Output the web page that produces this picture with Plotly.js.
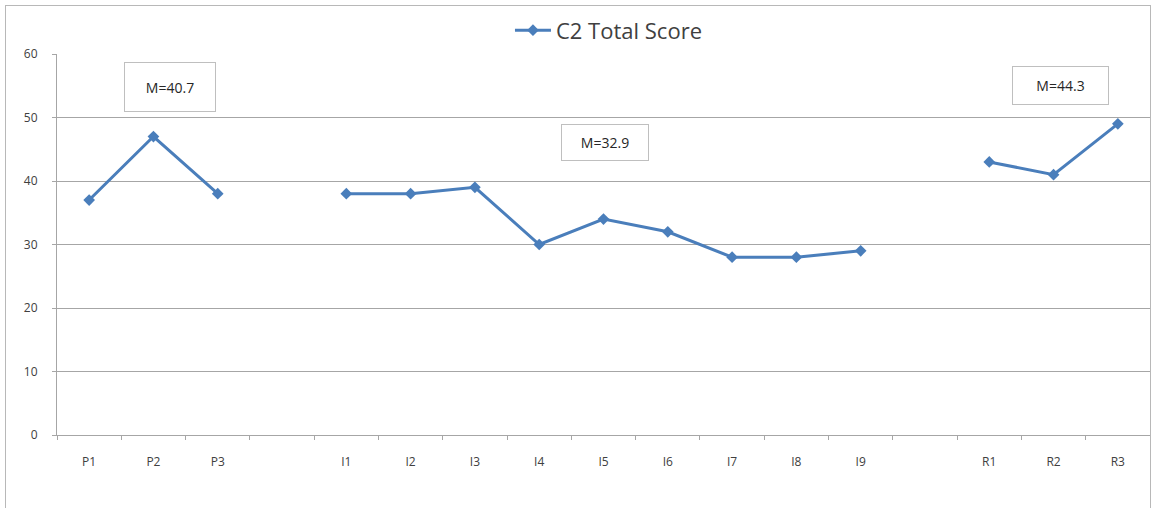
<!DOCTYPE html>
<html>
<head>
<meta charset="utf-8">
<script src="https://cdn.plot.ly/plotly-3.0.1.min.js"></script>
<style>
  html, body { margin: 0; padding: 0; background: #fff; }
  #wrap { position: relative; width: 1154px; height: 508px; overflow: hidden; }
  #chart { width: 1154px; height: 508px; }
  #frame { position: absolute; left: 5px; top: 5px; width: 1146px; height: 520px;
           border: 1px solid #b8b8b8; box-sizing: border-box; pointer-events: none; }
</style>
</head>
<body>
<div id="wrap">
  <div id="chart"></div>
  <div id="frame"></div>
</div>
<script>
// Categories (blank entries are the gaps between phases)
const categories = ["P1", "P2", "P3", " ", "I1", "I2", "I3", "I4", "I5", "I6", "I7", "I8", "I9", "  ", "R1", "R2", "R3"];
const scores     = [37, 47, 38, null, 38, 38, 39, 30, 34, 32, 28, 28, 29, null, 43, 41, 49];
const seriesName = "C2 Total Score";
const meanLabels = ["M=40.7", "M=32.9", "M=44.3"];

const blue = "#4a7ebb";
const grid = "#a6a6a6";
const textCol = "#404040";

const trace = {
  x: categories,
  y: scores,
  type: "scatter",
  mode: "lines+markers",
  name: seriesName,
  connectgaps: false,
  line: { color: blue, width: 3 },
  marker: { symbol: "diamond", size: 9, color: blue }
};

function box(text, x, y, w, h) {
  return {
    text: text, xref: "x", yref: "y", x: x, y: y,
    showarrow: false, width: w, height: h,
    bordercolor: "#bfbfbf", borderwidth: 1, bgcolor: "#ffffff",
    font: { family: "Open Sans, sans-serif", size: 14, color: "#262626" },
    align: "center", valign: "middle"
  };
}

const layout = {
  width: 1154, height: 508,
  margin: { l: 57, r: 4, t: 54, b: 73, pad: 0 },
  paper_bgcolor: "#ffffff", plot_bgcolor: "#ffffff",
  font: { family: "Open Sans, sans-serif", color: textCol },
  showlegend: true,
  legend: {
    orientation: "h", x: 0.505, xanchor: "center", y: 1.062, yanchor: "middle",
    font: { size: 22, color: textCol }, itemwidth: 36
  },
  xaxis: {
    type: "category",
    categoryorder: "array", categoryarray: categories,
    tickson: "boundaries",
    ticks: "outside", ticklen: 4, tickcolor: grid, tickwidth: 1,
    showline: true, linecolor: grid, linewidth: 1,
    showgrid: false, zeroline: false,
    ticklabelstandoff: 16,
    tickfont: { size: 12, color: textCol },
    range: [-0.5, 16.5], fixedrange: true
  },
  yaxis: {
    range: [0, 60], dtick: 10, tick0: 0,
    ticks: "outside", ticklen: 4, tickcolor: grid, tickwidth: 1,
    showline: true, linecolor: grid, linewidth: 1,
    showgrid: true, gridcolor: grid, gridwidth: 1,
    zeroline: false,
    ticklabelstandoff: 12,
    tickfont: { size: 12, color: textCol },
    fixedrange: true
  },
  annotations: [
    box(meanLabels[0], 1.26, 54.8, 88, 46),
    box(meanLabels[1], 8.03, 46.0, 84, 33),
    box(meanLabels[2], 15.11, 55.0, 93, 35)
  ]
};

Plotly.newPlot("chart", [trace], layout, { displayModeBar: false, staticPlot: true });
</script>
</body>
</html>
